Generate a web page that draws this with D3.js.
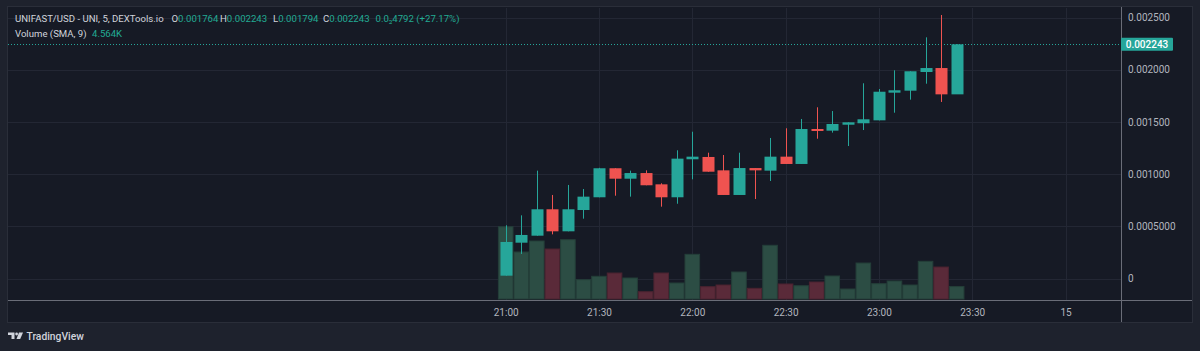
<!DOCTYPE html>
<html>
<head>
<meta charset="utf-8">
<script src="https://cdn.jsdelivr.net/npm/d3@7/dist/d3.min.js"></script>
<style>
html, body { margin: 0; padding: 0; background: #1e222d; overflow: hidden; }
svg { display: block; }
text { font-family: Roboto, "DejaVu Sans", sans-serif; }
</style>
</head>
<body>
<svg id="chart"></svg>
<script>
// 5 minute candles, UNIFAST/USD
let times = ["21:00", "21:05", "21:10", "21:15", "21:20", "21:25", "21:30", "21:35", "21:40", "21:45",
    "21:50", "21:55", "22:00", "22:05", "22:10", "22:15", "22:20", "22:25", "22:30", "22:35",
    "22:40", "22:45", "22:50", "22:55", "23:00", "23:05", "23:10", "23:15", "23:20", "23:25"];
let open = [0.000027, 0.000343, 0.000410, 0.000663, 0.000452, 0.000656, 0.000778, 0.001056, 0.000956, 0.001010,
    0.000902, 0.000778, 0.001142, 0.001164, 0.001036, 0.000800, 0.001058, 0.001033, 0.001167, 0.001097,
    0.001432, 0.001416, 0.001473, 0.001487, 0.001515, 0.001780, 0.001799, 0.001978, 0.002016, 0.001764];
let high = [0.000510, 0.000605, 0.001033, 0.000800, 0.000896, 0.000857, 0.001060, 0.001056, 0.001033, 0.001036,
    0.000912, 0.001228, 0.001406, 0.001205, 0.001183, 0.001205, 0.001058, 0.001346, 0.001439, 0.001528,
    0.001640, 0.001604, 0.001496, 0.001870, 0.001815, 0.001994, 0.001985, 0.002310, 0.002524, 0.002243];
let low = [0.000027, 0.000235, 0.000410, 0.000423, 0.000452, 0.000573, 0.000778, 0.000793, 0.000784, 0.000893,
    0.000688, 0.000716, 0.000950, 0.001023, 0.000800, 0.000800, 0.000761, 0.000934, 0.001097, 0.001097,
    0.001339, 0.001397, 0.001269, 0.001422, 0.001515, 0.001588, 0.001713, 0.001866, 0.001691, 0.001794];
let close = [0.000350, 0.000417, 0.000663, 0.000452, 0.000663, 0.000784, 0.001056, 0.000956, 0.001010, 0.000893,
    0.000778, 0.001148, 0.001167, 0.001023, 0.000800, 0.001058, 0.001036, 0.001167, 0.001097, 0.001432,
    0.001413, 0.001480, 0.001496, 0.001525, 0.001789, 0.001803, 0.001985, 0.002016, 0.001764, 0.002243];
let volume = [14970, 9730, 12010, 10350, 12280, 4000, 4700, 5380, 4350, 1510,
    5380, 3310, 9250, 2550, 2900, 5590, 2210, 11120, 3110, 2750,
    3520, 4760, 2070, 7450, 3170, 3730, 2900, 7800, 6620, 2580];

let yTicks = [0, 0.0005, 0.001, 0.0015, 0.002, 0.0025];
let yTickLabels = ["0", "0.0005000", "0.001000", "0.001500", "0.002000", "0.002500"];
let lastPrice = 0.002243;
let lastPriceLabel = "0.002243";

let legendTitle = "UNIFAST/USD - UNI, 5, DEXTools.io";
let legendKeys = ["O", "H", "L", "C"];
let legendVals = ["0.001764", "0.002243", "0.001794", "0.002243"];
let legendChange = "0.0\u20834792 (+27.17%)";
let volumeTitle = "Volume (SMA, 9)";
let volumeSma = "4.564K";

let width = 1200, height = 351;
let up = "#26a69a", down = "#ef5350";
let plot = { left: 8, right: 1121, top: 8, bottom: 300 };

let parseTime = d3.timeParse("%Y-%m-%d %H:%M");
let data = times.map((t, i) => ({
    date: parseTime("2024-01-14 " + t),
    o: open[i], h: high[i], l: low[i], c: close[i], v: volume[i]
}));

let svg = d3.select("#chart").attr("width", width).attr("height", height);

// frame
svg.append("rect").attr("width", width).attr("height", height).attr("fill", "#1e222d");
svg.append("rect")
    .attr("x", 7.5).attr("y", 6.5).attr("width", 1185).attr("height", 316)
    .attr("fill", "#161a25").attr("stroke", "#2a2e39");

let x = d3.scaleTime()
    .domain([parseTime("2024-01-14 21:00"), parseTime("2024-01-15 00:00")])
    .range([505.7, 1065.5]);
let y = d3.scaleLinear().domain([0, 0.0025]).range([278.5, 17.5]);
let yVol = d3.scaleLinear().domain([0, d3.max(volume)]).range([299, 226.7]);

let xTicks = x.ticks(d3.timeMinute.every(30));

// grid
let grid = svg.append("g").attr("stroke", "#232734").attr("stroke-width", 1);
grid.selectAll(".hg").data(yTicks).join("line")
    .attr("x1", plot.left).attr("x2", plot.right)
    .attr("y1", d => Math.round(y(d)) + 0.5).attr("y2", d => Math.round(y(d)) + 0.5);
grid.selectAll(".vg").data(xTicks).join("line")
    .attr("x1", d => Math.round(x(d)) + 0.5).attr("x2", d => Math.round(x(d)) + 0.5)
    .attr("y1", plot.top).attr("y2", plot.bottom);

// volume
svg.append("g").selectAll("rect").data(data).join("rect")
    .attr("x", d => x(d.date) - 7.3)
    .attr("width", 14.6)
    .attr("y", d => yVol(d.v))
    .attr("height", d => yVol(0) - yVol(d.v))
    .attr("fill", d => d.c >= d.o ? "#2c4d44" : "#5a2a39")
    .attr("stroke", d => d.c >= d.o ? "#243f39" : "#4a2330")
    .attr("stroke-width", 1);

// last price line
svg.append("line")
    .attr("x1", plot.left).attr("x2", plot.right)
    .attr("y1", Math.round(y(lastPrice)) + 0.5).attr("y2", Math.round(y(lastPrice)) + 0.5)
    .attr("stroke", up).attr("stroke-width", 1).attr("stroke-dasharray", "1,2");

// candles
let candle = svg.append("g").selectAll("g").data(data).join("g");
candle.append("line")
    .attr("x1", d => Math.round(x(d.date)) + 0.5).attr("x2", d => Math.round(x(d.date)) + 0.5)
    .attr("y1", d => y(d.h)).attr("y2", d => y(d.l))
    .attr("stroke", d => d.c >= d.o ? up : down);
candle.append("rect")
    .attr("x", d => Math.round(x(d.date)) - 5.5)
    .attr("width", 12)
    .attr("y", d => y(Math.max(d.o, d.c)))
    .attr("height", d => Math.max(1.5, Math.abs(y(d.o) - y(d.c))))
    .attr("fill", d => d.c >= d.o ? up : down);

// axes lines
svg.append("line").attr("x1", plot.left).attr("x2", 1192)
    .attr("y1", 300.5).attr("y2", 300.5).attr("stroke", "#6a6d78");
svg.append("line").attr("x1", 1121.5).attr("x2", 1121.5)
    .attr("y1", 7).attr("y2", 322).attr("stroke", "#6a6d78");

// x axis
let xAxis = svg.append("g")
    .attr("transform", "translate(0,305)")
    .call(d3.axisBottom(x)
        .tickValues(xTicks)
        .tickSize(0)
        .tickPadding(4)
        .tickFormat(d => d.getHours() === 0 ? d3.timeFormat("%-d")(d) : d3.timeFormat("%H:%M")(d)));
xAxis.select(".domain").remove();
xAxis.selectAll("text").attr("fill", "#b2b5be").attr("font-size", 10);

// y axis
let yAxis = svg.append("g")
    .attr("transform", "translate(1124,0)")
    .call(d3.axisRight(y)
        .tickValues(yTicks)
        .tickSize(0)
        .tickPadding(4)
        .tickFormat((d, i) => yTickLabels[i]));
yAxis.select(".domain").remove();
yAxis.selectAll("text").attr("fill", "#b2b5be").attr("font-size", 10);

// last price label
svg.append("rect")
    .attr("x", 1121).attr("y", y(lastPrice) - 6.5).attr("width", 52).attr("height", 13)
    .attr("rx", 1).attr("fill", up);
svg.append("text")
    .attr("x", 1147).attr("y", y(lastPrice)).attr("dy", "0.35em")
    .attr("text-anchor", "middle").attr("fill", "#ffffff")
    .attr("font-size", 10).attr("font-weight", 500)
    .text(lastPriceLabel);

// legend
let legend = svg.append("text").attr("y", 22).attr("font-size", 9.6).attr("fill", "#d1d4dc");
legend.append("tspan").attr("x", 15).text(legendTitle);
let keyX = [171.5, 220, 273, 323];
legendKeys.forEach((k, i) => {
    legend.append("tspan").attr("x", keyX[i]).text(k);
    legend.append("tspan").attr("fill", "#22ab94").text(legendVals[i]);
});
legend.append("tspan").attr("x", 375.5).attr("fill", "#22ab94").text(legendChange);

let legend2 = svg.append("text").attr("y", 37).attr("font-size", 9.6).attr("fill", "#d1d4dc");
legend2.append("tspan").attr("x", 15).text(volumeTitle);
legend2.append("tspan").attr("x", 92).attr("fill", "#22ab94").text(volumeSma);

// TradingView logo
let logo = svg.append("g").attr("fill", "#d1d4dc");
logo.append("path").attr("d", "M8,332.5 H14.5 V339 H11.5 V335 H8 Z");
logo.append("circle").attr("cx", 16.6).attr("cy", 334).attr("r", 1.4);
logo.append("path").attr("d", "M19,332.5 H23 L20.2,339 H16.5 Z");
svg.append("text")
    .attr("x", 26.5).attr("y", 339.5)
    .attr("font-size", 10.3).attr("font-weight", 500).attr("fill", "#d1d4dc")
    .text("TradingView");
</script>
</body>
</html>
